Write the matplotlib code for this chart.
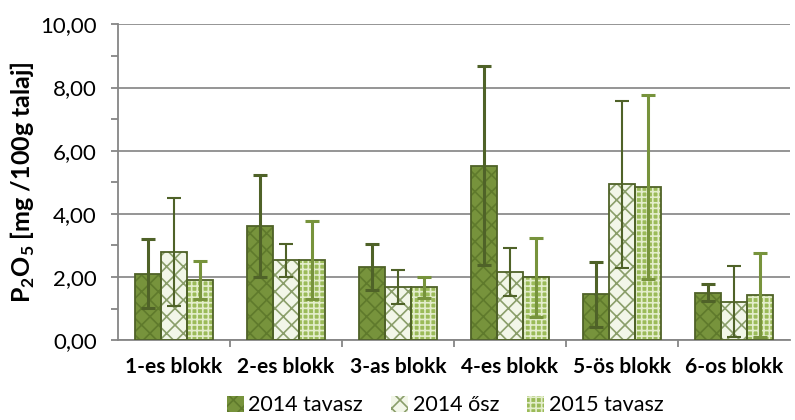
import matplotlib.pyplot as plt
import matplotlib as mpl
import numpy as np

categories = ['1-es blokk', '2-es blokk', '3-as blokk', '4-es blokk', '5-ös blokk', '6-os blokk']
series_names = ['2014 tavasz', '2014 ősz', '2015 tavasz']
tavasz_2014 = [2.11, 3.62, 2.32, 5.52, 1.46, 1.50]
osz_2014 = [2.79, 2.53, 1.69, 2.16, 4.93, 1.22]
tavasz_2015 = [1.92, 2.55, 1.67, 1.99, 4.85, 1.42]
err_2014t = [1.10, 1.62, 0.74, 3.15, 1.03, 0.27]
err_2014o = [1.70, 0.53, 0.53, 0.76, 2.65, 1.12]
err_2015t = [0.60, 1.23, 0.33, 1.25, 2.90, 1.33]
yticks = [0, 2, 4, 6, 8, 10]
ytick_labels = ['0,00', '2,00', '4,00', '6,00', '8,00', '10,00']

mpl.rcParams['font.family'] = 'Lato'
mpl.rcParams['mathtext.fontset'] = 'custom'
mpl.rcParams['mathtext.bf'] = 'Lato:bold'
mpl.rcParams['mathtext.rm'] = 'Lato'
mpl.rcParams['hatch.linewidth'] = 1.2

fig = plt.figure(figsize=(7.95, 4.2), dpi=100)
ax = fig.add_axes([0.148, 0.19, 0.846, 0.752])

values = [tavasz_2014, osz_2014, tavasz_2015]
errors = [err_2014t, err_2014o, err_2015t]
faces = ['#77933C', '#F2F6E8', '#9BBB59']
hatches = ['xx', 'xx', '+++']
hatch_cols = ['#5F7A2C', '#8A9E6A', '#E3EDCB']
err_cols = ['#4F6228', '#4F6228', '#77933C']
err_lw = [2.2, 1.5, 2.2]

x = np.arange(len(categories))
w = 0.232
for i in range(3):
    pos = x + (i - 1) * w
    ax.bar(pos, values[i], w, color=faces[i], edgecolor=hatch_cols[i],
           hatch=hatches[i], linewidth=0, zorder=2, label=series_names[i])
    ax.bar(pos, values[i], w, color='none', edgecolor='#4F6228', linewidth=1.3, zorder=3)
    ax.errorbar(pos, values[i], yerr=errors[i], fmt='none', ecolor=err_cols[i],
                elinewidth=err_lw[i], capsize=5, capthick=err_lw[i], zorder=4)

ax.set_ylim(0, 10)
ax.set_xlim(-0.5, 5.5)
ax.set_yticks(yticks)
ax.set_yticklabels(ytick_labels, fontsize=16)
ax.set_yticks([1, 3, 5, 7, 9], minor=True)
ax.set_xticks(x)
ax.set_xticklabels(categories, fontsize=15, fontweight='bold')
ax.set_xticks(np.arange(0.5, 5.5, 1), minor=True)
ax.tick_params(axis='x', which='major', length=0, pad=12)
ax.tick_params(axis='x', which='minor', length=5, direction='out', color='#868686', width=1.3)
ax.tick_params(axis='y', which='both', length=5, direction='out', color='#868686', width=1.3, pad=10)
ax.yaxis.grid(True, color='#8C8C8C', linewidth=1.3, zorder=0)
ax.set_axisbelow(True)
for s in ['top', 'right']:
    ax.spines[s].set_visible(False)
for s in ['left', 'bottom']:
    ax.spines[s].set_color('#868686')
    ax.spines[s].set_linewidth(1.3)

ax.set_ylabel('P$_\\mathbf{2}$O$_\\mathbf{5}$ [mg /100g talaj]', fontsize=18, fontweight='bold', labelpad=2)

handles = []
for i in range(3):
    handles.append(mpl.patches.Patch(facecolor=faces[i], edgecolor=hatch_cols[i], hatch=hatches[i],
                                     linewidth=0))
fig.legend(handles, series_names, loc='lower center', bbox_to_anchor=(0.56, -0.035),
           ncol=3, frameon=False, fontsize=15.5, handlelength=0.8, handleheight=0.8,
           handletextpad=0.2, columnspacing=1.3)

fig.savefig('out.png', dpi=100)
